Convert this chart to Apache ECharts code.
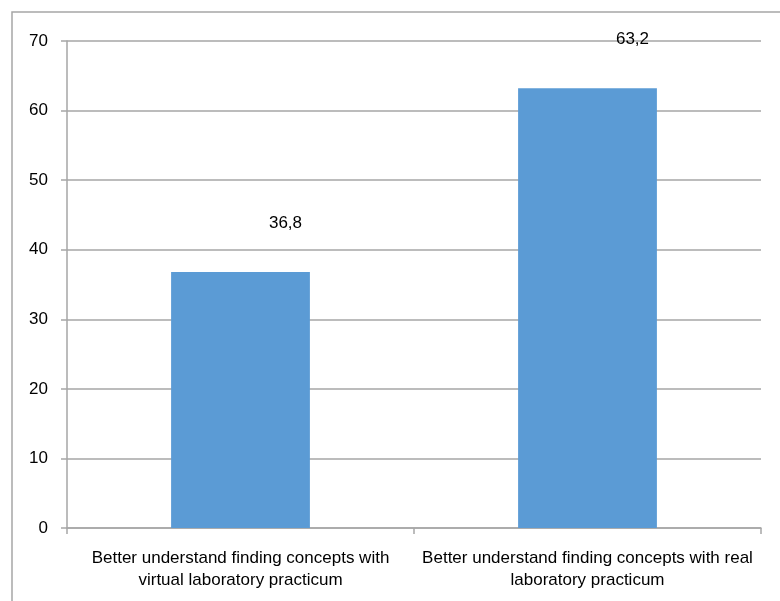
<!DOCTYPE html>
<html>
<head>
<meta charset="utf-8">
<script src="https://cdn.jsdelivr.net/npm/echarts@6/dist/echarts.min.js"></script>
<style>
  html, body { margin: 0; padding: 0; background: #fff; }
  #chart { width: 780px; height: 601px; }
</style>
</head>
<body>
<div id="chart"></div>
<script>
// Categories along the x axis
const categories = [
  'Better understand finding concepts with\nvirtual laboratory practicum',
  'Better understand finding concepts with real\nlaboratory practicum'
];
// Percentages for each category
const values = [36.8, 63.2];
// Y axis ticks
const yMin = 0, yMax = 70, yStep = 10;

const gridColor = '#a6a6a6';
const fontFamily = '"Liberation Sans", Arial, sans-serif';

const chart = echarts.init(document.getElementById('chart'), null, { renderer: 'canvas' });
chart.setOption({
  animation: false,
  backgroundColor: '#ffffff',
  graphic: [{
    type: 'rect',
    shape: { x: 12, y: 12, width: 800, height: 620 },
    style: { fill: 'none', stroke: '#a6a6a6', lineWidth: 1.5 },
    silent: true
  }],
  grid: { left: 67, right: 19, top: 41, bottom: 73, outerBoundsMode: 'none', containLabel: false },
  xAxis: {
    type: 'category',
    data: categories,
    axisLine: { lineStyle: { color: gridColor, width: 1.5 } },
    axisTick: { show: true, length: 6, lineStyle: { color: gridColor, width: 1.5 } },
    axisLabel: {
      color: '#000',
      fontSize: 17,
      fontFamily: fontFamily,
      lineHeight: 22,
      margin: 19,
      interval: 0,
      align: 'center'
    }
  },
  yAxis: {
    type: 'value',
    min: yMin,
    max: yMax,
    interval: yStep,
    axisLine: { show: true, lineStyle: { color: gridColor, width: 1.5 } },
    axisTick: { show: true, length: 6, lineStyle: { color: gridColor, width: 1.5 } },
    splitLine: { show: true, lineStyle: { color: gridColor, width: 1.5 } },
    axisLabel: {
      color: '#000',
      fontSize: 17,
      fontFamily: fontFamily,
      margin: 19
    }
  },
  series: [{
    type: 'bar',
    data: values,
    barWidth: '40%',
    itemStyle: { color: '#5b9bd5' },
    label: {
      show: true,
      position: 'top',
      offset: [45, -35],
      color: '#000',
      fontSize: 17,
      fontFamily: fontFamily,
      formatter: p => String(p.value).replace('.', ',')
    }
  }]
});
</script>
</body>
</html>
